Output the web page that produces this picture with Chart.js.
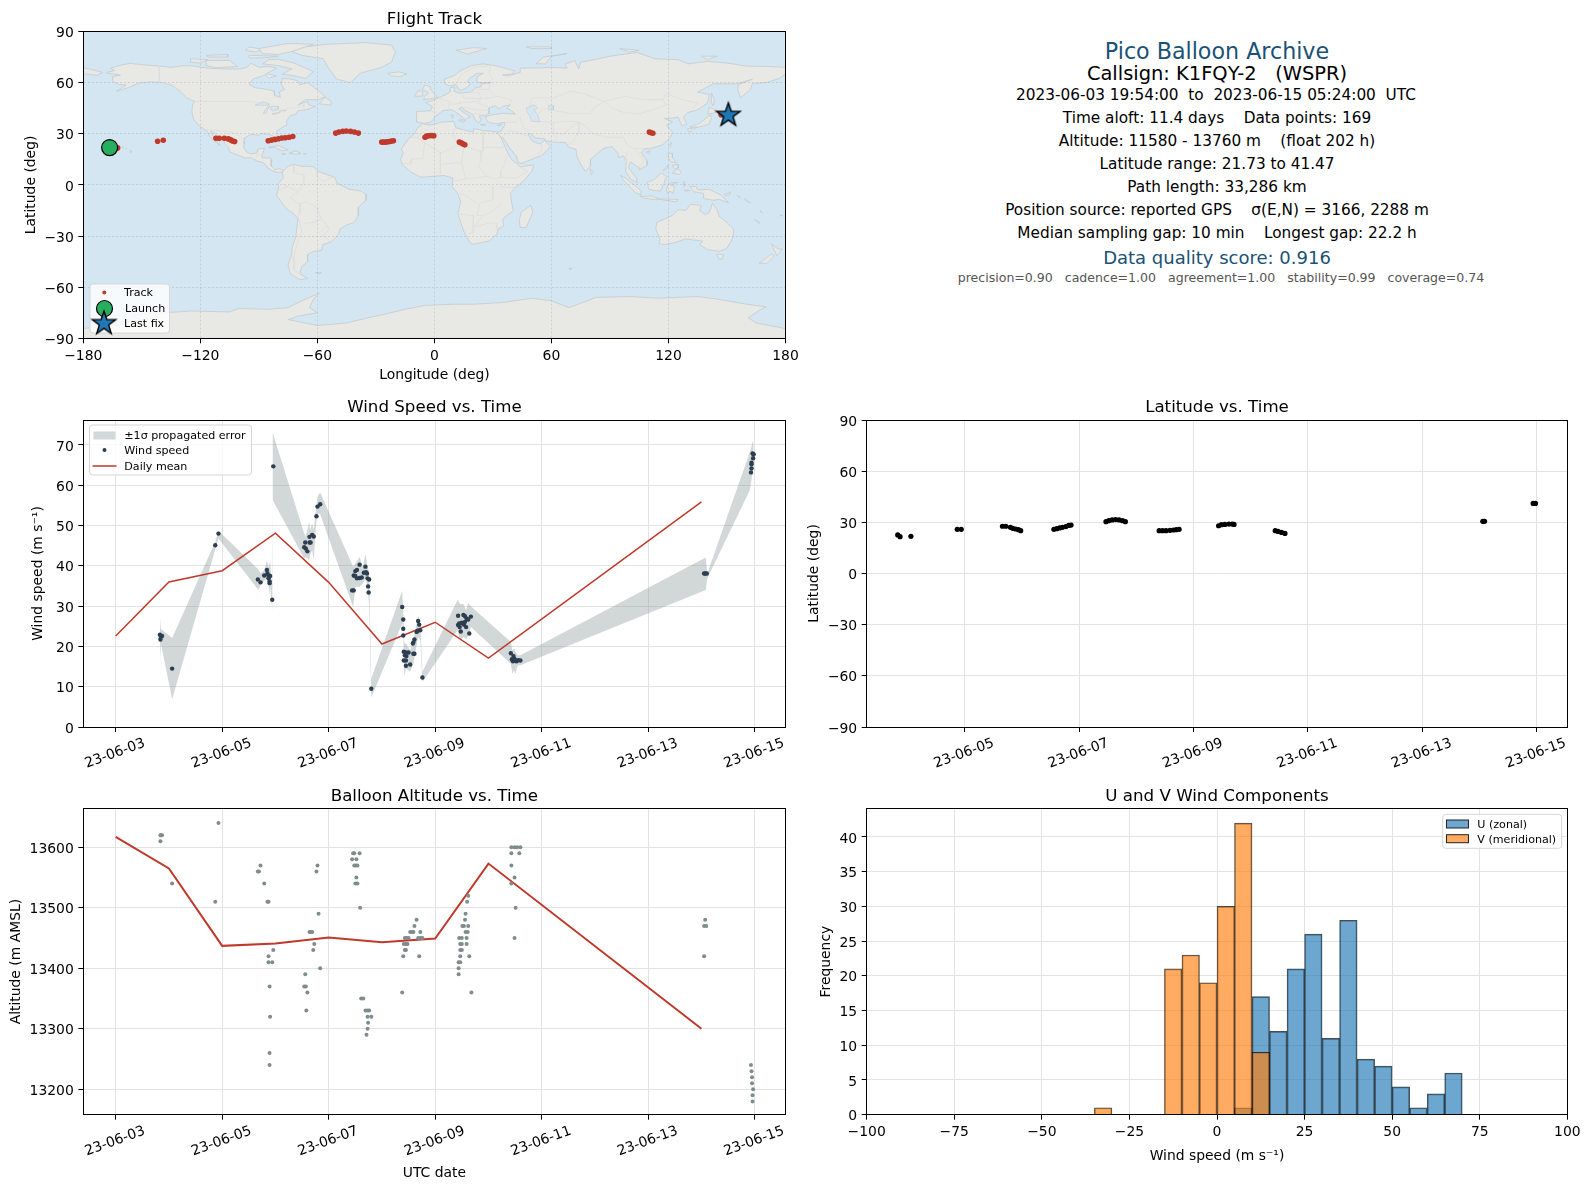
<!DOCTYPE html>
<html>
<head>
<meta charset="utf-8">
<script src="https://cdn.jsdelivr.net/npm/chart.js@4/dist/chart.umd.js"></script>
<style>
  html, body { margin: 0; padding: 0; background: #fff; }
  #page { position: relative; width: 1590px; height: 1189px; overflow: hidden; font-family: "DejaVu Sans", sans-serif; }
  canvas { position: absolute; }
  .info { position: absolute; white-space: pre; transform: translate(-50%, -50%); line-height: 1; }
</style>
</head>
<body>
<div id="page">
  <canvas id="mapChart" width="800" height="384" style="left:0;top:0"></canvas>
  <canvas id="windChart" width="800" height="385" style="left:0;top:388px"></canvas>
  <canvas id="latChart" width="790" height="385" style="left:800px;top:388px"></canvas>
  <canvas id="altChart" width="800" height="412" style="left:0;top:777px"></canvas>
  <canvas id="histChart" width="790" height="412" style="left:800px;top:777px"></canvas>
</div>
<script>
// axis ticks
const lonTicks = [-180, -120, -60, 0, 60, 120, 180];
const latTicks = [-90, -60, -30, 0, 30, 60, 90];
const windDayTicks = [3, 5, 7, 9, 11, 13, 15];
const latDayTicks = [5, 7, 9, 11, 13, 15];
const windTicks = [0, 10, 20, 30, 40, 50, 60, 70];
const altTicks = [13200, 13300, 13400, 13500, 13600];
const histXTicks = [-100, -75, -50, -25, 0, 25, 50, 75, 100];
const histYTicks = [0, 5, 10, 15, 20, 25, 30, 35, 40];

// flight track
const trackLon = [-162.4, -141.9, -139, -112, -110.3, -107.7, -105.6, -104.4, -103.4, -102.4,
  -85.2, -83.5, -81.8, -80, -78.3, -76.5, -74.5, -72.6,
  -50.6, -49, -47, -45.2, -43, -41, -39,
  -27, -26, -25, -24, -23, -22, -21,
  -4.8, -4, -3, -2, -1, -0.3,
  12.8, 13.7, 14.6, 15.6,
  110.2, 111, 112, 147];
const trackLat = [21.7, 25.6, 26.2, 27.3, 27.3, 27.3, 27, 26.4, 25.8, 25.4,
  25.9, 26.3, 26.7, 27.1, 27.5, 27.7, 28, 28.4,
  30.4, 31, 31.4, 31.6, 31.4, 31, 30.4,
  25.1, 25.1, 25.1, 25.3, 25.5, 25.7, 25.9,
  28, 28.6, 28.8, 29, 29, 28.8,
  25.1, 24.7, 24.1, 23.5,
  31, 30.6, 30.3, 41.1];
const launchLon = [-166.5];
const launchLat = [21.9];
const lastLon = [150.7];
const lastLat = [41.47];

// latitude vs time (day of June 2023)
const latDays = [3.83, 3.87, 4.06, 4.87, 4.94, 5.66, 5.72, 5.80, 5.84, 5.89, 5.94, 5.98,
  6.56, 6.61, 6.66, 6.71, 6.77, 6.82, 6.86,
  7.47, 7.52, 7.58, 7.64, 7.70, 7.76, 7.81,
  8.40, 8.46, 8.52, 8.59, 8.65, 8.70, 8.75,
  9.44, 9.49, 9.55, 9.62, 9.68, 9.71,
  10.43, 10.48, 10.54, 10.60, 14.06, 14.09, 14.94, 14.98];
const latValues = [22.6, 21.6, 21.8, 25.9, 25.9, 27.7, 27.7, 27.1, 26.5, 26.1, 25.7, 25.1,
  25.9, 26.3, 26.7, 27.1, 27.5, 28.2, 28.4,
  30.4, 31, 31.4, 31.6, 31.4, 31, 30.4,
  25.1, 25.1, 25.1, 25.3, 25.5, 25.7, 25.9,
  28, 28.6, 28.8, 29, 29, 28.8,
  25.1, 24.7, 24.1, 23.5, 30.6, 30.6, 41.1, 41.1];

// wind speed samples
const windDays = [3.83, 3.87, 3.84, 3.85, 4.06, 4.87, 4.93,
  5.67, 5.72, 5.79, 5.84, 5.85, 5.87, 5.90, 5.87, 5.89, 5.89, 5.94, 5.96,
  6.54, 6.57, 6.60, 6.56, 6.64, 6.66, 6.64, 6.69, 6.72, 6.77, 6.79, 6.84,
  7.44, 7.47, 7.47, 7.50, 7.53, 7.50, 7.53, 7.58, 7.58, 7.62, 7.66, 7.69, 7.70, 7.72, 7.73, 7.76, 7.74, 7.75, 7.80,
  8.38, 8.40, 8.40, 8.40, 8.41, 8.45, 8.50, 8.43, 8.46, 8.41, 8.45, 8.45, 8.53, 8.59, 8.61, 8.58, 8.61, 8.59, 8.65, 8.68, 8.70, 8.72, 8.67, 8.76,
  9.43, 9.53, 9.56, 9.67, 9.59, 9.56, 9.50, 9.45, 9.43, 9.46, 9.54, 9.58, 9.48, 9.64, 9.62, 9.52,
  10.42, 10.47, 10.44, 10.48, 10.51, 10.46, 10.56, 10.60, 10.50, 10.53,
  14.05, 14.07, 14.10,
  14.96, 14.98, 14.97, 14.94, 14.94, 14.94, 14.93];
const windValues = [22.9, 22.6, 21.7, 22.4, 14.5, 45.1, 48,
  36.6, 35.9, 37.6, 39, 38.1, 37.6, 37.5, 36.9, 35.7, 36.1, 31.6, 64.7,
  44.6, 44.3, 43.6, 45.8, 45.8, 45.8, 47.2, 47.7, 47.3, 52.3, 54.7, 55.3,
  33.9, 33.9, 37.6, 38.7, 39, 37.5, 36.9, 40.3, 37, 37.1, 38.3, 39.8, 38.4, 38.1, 36.9, 36.6, 34.9, 33.4, 9.5,
  29.8, 26.7, 24.4, 22.7, 18.7, 18.5, 18.5, 17.8, 17.6, 16.5, 16.5, 15.2, 15.5, 18.2, 18.2, 20.7, 21.7, 21, 23.6, 26.3, 25.4, 24, 23.9, 12.3,
  27.6, 27.8, 27.5, 27.4, 26.9, 26.1, 25.9, 25.7, 25.3, 24.8, 25.4, 24.8, 23.7, 23.2, 26.7, 25.7,
  18.3, 17.6, 16.8, 17, 16.4, 16.3, 16.6, 16.5, 16.7, 16.3,
  38.1, 38.1, 38.1,
  67.9, 67.7, 66.7, 65.6, 65.2, 64.2, 63.2];

// propagated error band
const bandDays = [3.83, 3.85, 4.06, 4.87, 4.93, 5.68, 5.72, 5.79, 5.84, 5.87, 5.88, 5.90, 5.94, 5.95,
  6.54, 6.57, 6.63, 6.65, 6.69, 6.72, 6.76, 6.79, 6.84,
  7.46, 7.50, 7.58, 7.64, 7.69, 7.73, 7.75, 7.76, 7.80,
  8.38, 8.40, 8.42, 8.45, 8.53, 8.59, 8.68, 8.72, 8.76,
  9.42, 9.47, 9.53, 9.58, 9.62, 9.67,
  10.42, 10.45, 10.48, 10.51, 10.55, 10.60,
  14.08, 14.11, 14.91, 14.93, 14.97, 14.98];
const bandUpper = [27.2, 24.3, 22.1, 46, 48.7, 39.1, 38.1, 38.9, 41.4, 39.8, 39.8, 41.4, 34.8, 73,
  48, 47.2, 50.9, 48.9, 50.5, 48.9, 53.8, 57.2, 58.2,
  39.8, 40.6, 42.2, 39.8, 42.9, 39.8, 38.9, 38.1, 12,
  33.8, 29, 20.7, 20.7, 19, 21.5, 27.6, 25.7, 13.7,
  31.5, 30.5, 30.5, 29, 30.8, 30,
  21.1, 19, 19.5, 18.6, 17.8, 17.8,
  42.1, 38.1, 68.3, 69.2, 71.2, 69.6];
const bandLower = [16.2, 20.7, 6.9, 44.1, 46.8, 34, 35.2, 36.3, 36.9, 35.6, 32.7, 34.8, 29, 56.3,
  41.8, 42.2, 41.4, 42.7, 43.9, 41.4, 50.1, 53, 52.8,
  29.8, 34.8, 34.8, 35.6, 36.9, 34.8, 31.5, 29.8, 7.3,
  25.7, 24, 12.6, 14.5, 13.7, 15.7, 22.4, 21.5, 11.2,
  24, 21.5, 22.4, 21.7, 22.7, 24.8,
  15.7, 13.2, 14.1, 13.2, 15.3, 15.3,
  34, 36.9, 58.8, 60.5, 64.2, 66.3];

const meanDays = [3, 4, 5, 6, 7, 8, 9, 10, 14];
const meanWind = [22.6, 36, 38.8, 48.1, 35.9, 20.6, 26, 17.1, 55.9];
const meanAlt = [13617, 13565, 13437, 13441, 13451, 13443, 13449, 13573, 13300];

// altitude samples
const altDays = [3.84, 3.84, 3.87, 3.85, 4.06, 4.87, 4.93,
  5.72, 5.67, 5.69, 5.79, 5.85, 5.87, 5.96, 5.87, 5.87, 5.94, 5.89, 5.90, 5.89, 5.89,
  6.79, 6.77, 6.81, 6.64, 6.66, 6.69, 6.73, 6.71, 6.84, 6.56, 6.54, 6.57, 6.60, 6.58,
  7.46, 7.48, 7.58, 7.44, 7.52, 7.48, 7.51, 7.54, 7.52, 7.50, 7.54, 7.59, 7.61, 7.65, 7.69, 7.73, 7.76, 7.73, 7.80, 7.74, 7.73, 7.71,
  8.38, 8.40, 8.43, 8.45, 8.41, 8.45, 8.48, 8.43, 8.46, 8.50, 8.65, 8.61, 8.53, 8.57, 8.72, 8.59, 8.68, 8.72, 8.76, 8.70,
  9.44, 9.44, 9.44, 9.47, 9.47, 9.47, 9.50, 9.47, 9.50, 9.45, 9.50, 9.59, 9.59, 9.64, 9.68, 9.57, 9.61, 9.51, 9.54, 9.62, 9.56, 9.57, 9.60, 9.62,
  10.43, 10.49, 10.54, 10.60, 10.43, 10.58, 10.43, 10.49, 10.43, 10.51, 10.49,
  14.07, 14.05, 14.09, 14.05,
  14.93, 14.94, 14.95, 14.95, 14.97, 14.96, 14.96];
const altValues = [13610, 13620, 13620, 13620, 13540, 13510, 13640,
  13570, 13560, 13560, 13540, 13510, 13510, 13430, 13420, 13410, 13410, 13370, 13320, 13260, 13240,
  13570, 13560, 13490, 13460, 13460, 13460, 13440, 13430, 13400, 13390, 13370, 13370, 13360, 13330,
  13590, 13590, 13590, 13580, 13580, 13570, 13570, 13570, 13550, 13540, 13540, 13500, 13350, 13350, 13330, 13330, 13330, 13320, 13320, 13310, 13300, 13290,
  13360, 13420, 13430, 13430, 13440, 13440, 13440, 13450, 13450, 13450, 13480, 13470, 13460, 13460, 13460, 13460, 13450, 13450, 13450, 13420,
  13390, 13400, 13410, 13410, 13420, 13430, 13430, 13440, 13440, 13450, 13450, 13450, 13440, 13420, 13360, 13460, 13460, 13470, 13470, 13470, 13480, 13490, 13510, 13520,
  13600, 13600, 13600, 13600, 13590, 13590, 13570, 13550, 13540, 13500, 13450,
  13480, 13470, 13470, 13420,
  13240, 13230, 13220, 13210, 13200, 13190, 13180];

// histogram bins (centre of each 5 m/s bin, count)
const uBins = [7.5, 12.5, 17.5, 22.5, 27.5, 32.5, 37.5, 42.5, 47.5, 52.5, 57.5, 62.5, 67.5];
const uCounts = [1, 17, 12, 21, 26, 11, 28, 8, 7, 4, 1, 3, 6];
const vBins = [-32.5, -12.5, -7.5, -2.5, 2.5, 7.5, 12.5];
const vCounts = [1, 21, 23, 19, 30, 42, 9];

// coastlines, flat lon,lat pairs
const landShapes = [
  // north america
  [-168,66,-164,67,-166,68.5,-160,70.5,-156,71.3,-150,70.5,-141,69.7,-135,69,-128,70,-124,69.8,-116,68.5,-108,68,-100,68,-96,69,-94,71.5,-90,69,-85,69.5,-81,68.5,-85,66,-87,64.5,-93,62,-95,59,-92,57,-88,56.5,-82,55,-82,52.5,-79,51.3,-79.5,54.5,-77,56,-78.5,59,-78,62.5,-73,62,-70,61,-69,58.7,-65,60,-62,57.5,-57,53,-56,51.7,-60,50,-66,50,-70,47,-65,49,-64.5,47,-61,46,-66,44,-70,43.5,-71,41.5,-74,40.5,-76,37,-75.5,35.3,-78,33.8,-81,31.5,-80.2,27,-80.3,25.3,-81.8,26,-83,29,-85,29.7,-89,30.2,-90,29.2,-94,29.6,-97.3,27.5,-97.5,24,-97.8,22,-96,19,-94,18.2,-91,18.7,-90.5,21,-87,21.5,-88,18.5,-88.5,16,-84,15.8,-83.3,14.8,-83.7,11,-82,9,-79.5,9.5,-77.3,8.5,-78,7.5,-80.5,7.3,-83,8.2,-85.5,10,-87.5,13,-91,14,-94,16,-97,15.8,-101,17.5,-105,19.5,-105.5,22,-108,25,-110,27.5,-112.8,30.5,-114.7,31.7,-114.5,30,-111.5,26,-109.8,23,-112,25,-115,28,-116.5,31.5,-120.5,34.5,-123.5,38.5,-124.3,43,-124,47,-123,49,-127,51,-130,54.5,-134,58,-139,60,-145,60.5,-150,60,-152,59.5,-157,57,-163,55,-158,58.5,-162,59,-165,61,-165,63.5,-161,64.5,-168,65.5],
  [-180,68.8,-175,67.5,-170,66,-173,64.3,-178,65,-180,65],
  [-73,78.2,-66,81,-55,82.5,-35,83.5,-22,82,-20,78,-22,72,-27,69,-38,65.5,-43,60,-50,62,-54,68,-57,74,-68,76],
  [-80,73.7,-72,71.5,-67,69,-62,66.5,-66,62.5,-72,64,-78,65,-73,68,-80,70,-88,71,-85,73.5],
  [-117,73,-105,73,-101,69.5,-112,68.7,-117,70],
  [-90,80,-75,83,-62,82.5,-72,78.5,-80,76.5,-88,77],
  [-125,74,-116,73.5,-120,71.5,-125,72],
  [-95,76,-80,75.5,-88,74.5,-95,74.5],
  [-117,76,-106,76.5,-106,75,-116,75],
  [-95,81,-88,79.5,-92,78,-97,79],
  [-87,65.5,-81,64,-85,62.5],
  [-59,47.6,-53,46.8,-53,49,-56,51.5],
  [-85,22,-80,23,-75,20.5,-78,20,-82,22],
  [-74.5,18.5,-71,20,-68.5,18.5,-71,18],
  [-78.3,18.3,-76.3,18.2,-77,17.8],
  [-67.2,18.4,-65.7,18.3,-66.5,18],
  [-156,20.2,-155,19.5,-156,19],
  [-158.2,21.6,-157.7,21.4,-158,21.2],
  [-160,22.2,-159.4,22.2,-159.6,21.9],
  // south america
  [-77.3,8.5,-75,11,-72,12,-68,11,-62,10.7,-60,8.3,-55,6,-51,4.5,-50,1,-44,-2.5,-38,-3.5,-35,-5.5,-35,-9,-39,-13,-39,-18,-41,-22,-45,-23.5,-48.5,-26,-49,-29,-53,-33.5,-57,-35,-58,-38.5,-62,-39,-65,-41,-65,-45,-68,-48,-69,-52,-65,-55,-69,-55.5,-74,-52,-75,-47,-73,-40,-73,-37,-71,-30,-70,-20,-72,-17,-76,-14,-81,-6,-80,-2.5,-80,1,-77.5,4,-78,7.5],
  [-61,-51.5,-58,-51.5,-59,-52.2],
  // africa
  [-6,35.8,-2,35,3,36.8,10,37.3,11,33.5,15,32.3,20,31,20,33,25,32,32,31,34,28,36,23,37.5,19,39.5,15,43,11.8,44,10.5,51,11.8,50,8,45.5,2,41,-2,39,-5,39.5,-10,40.5,-15,35,-20,35.5,-24,32.7,-26,32,-29,28,-33,20,-34.8,18.3,-34,15,-27,12,-17,13.5,-10,12,-5,9,-1,9.5,4,5,5.5,-1,5,-7,4.5,-12,7.5,-16.5,12,-17.3,15,-16,19,-17,21,-13,27.5,-10,30,-9,33],
  [49.5,-12,50.5,-16,47,-25,44,-25,43.5,-21,44.5,-16],
  // eurasia
  [-9,37,-9.3,39,-9,43,-2,43.5,-1,46,-4.5,48.3,-1,49.5,2,51,4,52,7,53.7,8.5,55,8,57,10.5,57.5,10,55,12,54,14,54,19,54.5,21,57,24,57.5,24,59.3,29,60,23,60,21.5,61,22,63.5,25,65.5,22,65.5,18,62.5,17,60.5,18.5,59.5,16.5,57,14,55.5,12.5,56,11,59,8,58,5.5,59,5,62,10,64,14,67.5,19,70,25,71,31,70,41,67,40,65,35,64.5,38,64,44,66,44,68.5,54,68.7,60,69,68,68.5,67,71,72,73,74,68,75,72,82,73.5,90,75.5,104,77.7,113,74,125,73.5,130,71,140,72.5,150,71.5,160,69.7,170,69.5,180,69,180,65,177,62.5,170,60,163,59.5,162,56,157,51,155.5,56,156,59,163,62,155,59.3,143,59.3,135,54.5,141,53,140,48,135,44,130,42.5,127.5,39.7,129.5,36,127,34.5,126,37,125,39.7,121,39,118,39,122,37,119,35,122,31,121,28,117,23.5,110,21,108,21.5,106,19,109,14,109,11.5,105,8.7,105,10,100.5,13.5,99.5,10,103.5,4,104,1.3,100.5,3.5,98,8,98.5,14,97,17,94.5,16,94,18.5,91,22.5,87,21.5,82,17,80,15,80,11,77.5,8,75,12,73,17,72.5,21,69,22,67,25,61.5,25,57,26,56.5,27,52,27.5,49,30.3,48,29.5,50,26,51.5,25,54,24,56.5,26,59.5,22.5,55,17,52,16,45,12.7,43,13,42,17,39,21,35,28,34,27.8,32.5,30,32.3,31,34,31.3,36,35,36,36.7,32,36,28,36.5,26.5,38.5,26.3,40,29,41,35,42,41.5,41.5,39,44,37,45,39,47,35,46,33.5,44.5,31,46.5,28,45,28,42,26,40.7,23,40.5,24,38,22.5,36.5,21,38,19.5,41.5,16,43.5,13.5,45.7,12.5,44.5,16,41.8,18.5,40,16.5,39,16,38,13,41,10.5,43,8.5,44.3,4,43.5,3,42,0,40,-0.3,38.5,-2,36.8,-5.5,36],
  [-24,65.5,-18,66.3,-14,65,-18,63.5,-22,64],
  [-5.5,50,1.5,51.2,0,53.5,-2,56,-2,57.6,-5,58.6,-6,56,-3,54,-5,52],
  [-10,52,-6,52.2,-6,55,-8.5,55.2],
  [11,79,20,80.5,27,80,17,76.8],
  [52,71,56,75,68,77,60,75.5,57,71],
  [95,80,105,79,100,78],
  [137,75.5,145,75.5,140,73.5],
  [47,81,60,81,60,80,50,80],
  [12.5,38,15.5,38.2,15,36.7],
  [8.3,41,9.7,41,9.5,39],
  [23.5,35.5,26.3,35.2,24,35],
  [32.3,35,34.5,35.6,33,34.6],
  [79.8,9.5,81.8,7.5,80.5,6],
  // east asia and the islands
  [142,54,143.5,50,143,46.5,142,48],
  [140,41.7,141,45.5,145.5,43.5,143,42],
  [130.9,34,136,36,140,40,141.5,41,142,39,140.7,35.5,136,34,132,33.8],
  [130,33,132,33.5,131.3,31,130,31.5],
  [132.3,33.8,134.5,34,134,33.3,132.8,32.8],
  [120,23,121.5,25.2,121,22],
  [108.7,19.3,110.7,20,110,18.3],
  [120,18.5,122,18.5,122,16,124,13,121,13.7,120,16],
  [122,7,125,9.5,126.5,7.5,125.5,6,124,6.5],
  [122,11.5,125,12,125,10,123,9.5],
  [117.3,8.5,119.5,11.3,119.7,10.5,118,8.5],
  [109,1.5,111.5,2.5,113,3.5,116.5,7,119,5,117.7,1,116,-3.5,113,-3.3,110,-2.5],
  [95.3,5.6,98,4,103.5,-1,106,-3.5,105.8,-5.8,103,-4.5,100.5,-1.5,97.5,2],
  [105.3,-6.5,108.5,-6.7,111,-6.5,114.5,-7.7,114.5,-8.7,108,-7.9],
  [115,-8.2,119,-8.3,125,-8.5,124,-10,118,-9],
  [119.5,-5.5,119,-2.7,120,1,125,1.5,121,0,123,-1,122.5,-5,120.5,-3.5],
  [127.5,2,128.7,1,128,-1],
  [128,-3,130.8,-3.3,128.5,-3.7],
  [131,-1,134,-0.8,135,-3,141,-2.6,147,-6,150.8,-10.5,146,-8.5,143,-9,138,-8,138,-5,133,-4],
  [148.5,-5.7,152,-4.2,151,-6,149,-6.2],
  [155,-6,157,-7.5,156,-7.2],
  [159,-8,162,-10.5,160,-9.5],
  [167,-15,168,-16.5,167.5,-16],
  [164,-20.2,167,-22.3,166,-22.3],
  [177.3,-17.5,178.6,-18,177.5,-18.2],
  // australia, new zealand
  [114,-22,113.5,-26,115.7,-32,115,-34.5,118,-35,123.5,-33.8,129,-31.7,134,-32.5,137.7,-33,136,-35,140,-38,146,-39,150,-37.3,153,-31,153.5,-26,149,-21,146,-18.5,145,-14.5,142.5,-10.8,141,-16,139,-17.5,136,-15,136.8,-12,131,-11.5,129,-15,125,-14.5,122,-18,118,-20],
  [144.7,-40.7,148.3,-41,147.5,-43.5,146,-43.5],
  [172.7,-34.5,176,-37.5,178.5,-37.7,175.5,-41.6,174.8,-39.5],
  [172.7,-40.5,174.3,-41.7,170.5,-46,166.5,-46,170,-43],
  [69,-49,70.5,-49.2,69.5,-49.7],
  // antarctica
  [-180,-84.3,-160,-82,-150,-79,-155,-77,-145,-75.5,-125,-74,-105,-74.5,-100,-72.5,-85,-73,-75,-72,-68,-68,-59,-63.5,-62,-67,-64,-72,-60,-75,-70,-77,-75,-79,-60,-82.5,-45,-81,-36,-78.5,-28,-76.5,-15,-73,-5,-70.7,10,-70,20,-70,35,-69,50,-66.5,60,-68,69,-72,75,-69.5,83,-66,100,-65.5,115,-66.5,135,-65.5,145,-67,160,-70,170,-71.5,166,-74,161,-78,165,-81,180,-84.3,180,-90,-180,-90]
];
// inland water
const lakeShapes = [
  [47,45,51,47,53,45,51,44,53,41,54,37,50,37.3,49,40,47.5,43],
  [-92,46.8,-88,48.7,-85,47.8,-85,46.6,-88,46.7],
  [-87.8,42,-85.5,45.8,-84.8,45.8,-86.3,42],
  [-84.5,46,-80,46,-80,44.5,-82.5,43.2,-83.8,44],
  [-83.3,41.7,-79,42.8,-79.2,42.4,-82,41.4],
  [-79.7,43.3,-76.3,44,-76.3,43.4],
  [58.5,46.5,61,46.5,61,44,58.5,44]
];
// country borders, open polylines
const borderLines = [
  [-141,69.7,-141,60.3,-135,59,-130,55],
  [-123,49,-95,49,-89,48,-84,46,-82,42,-79,43,-75,45,-71,45,-67,47.3,-67,45],
  [-117,32.5,-108,31.5,-106.5,31.7,-101,29.7,-97.3,26],
  [-92,14.5,-91,17.5,-89,17.8,-88.5,16],
  [-72,12,-72,7,-67,6,-67,1.5,-70,-4,-74,-7.5,-70,-11,-65,-10,-60,-13.5,-58,-20,-55,-24,-54,-26,-57,-30,-53,-33.5],
  [-70,-18,-69,-22,-68,-27,-70,-33,-72,-42,-72,-50,-69,-52],
  [-78,0.5,-75,-1,-70,-4],
  [-80,-3.5,-75,-1],
  [-60,8,-60,5,-57,2,-52,4.5],
  [-69,-11,-69,-17,-70,-18],
  [-58,-20,-62,-22,-67,-22.5],
  [-58,-27,-55,-24],
  [-8.7,27.5,3,19,4,19,12,23.5,15,23,24,19.5,24,15.5,22.5,11,27,5,31,3.7,34,4.5,42,4,48,8,43,11],
  [25,32,25,20,24,20],
  [11,33,9.5,30,12,23.5],
  [-1.7,35,-8.7,28,-13,27.7],
  [-8.7,27.5,-5,25,-6,15.5,-12,15,-12,12.5,-16,12.5],
  [3,19,3,12,3,6.5],
  [15,23,14,13,9,12.8,3,11.8],
  [14,13,15,8,16,3.5,10,2.3],
  [16,3.5,18,3.7,27,5],
  [36.8,22,24.5,22],
  [37,17.5,36,12,34,8,34,4.5],
  [30,-1,30,-8.5,23,-11,22,-18,25,-18,30,-15.5,34,-11],
  [34,-1,41,-1.7,39.2,-4.7],
  [12,-5,16,-6,22,-11],
  [12,-17,20,-18,20,-28,17,-28.7],
  [25,-18,20,-25,28,-22.3,32,-22.5,32,-26],
  [49,46,50,51,61,51,70,55,77,53.5,83,50.7,87,49],
  [87,49,98,52,107,50,117,50,119,53.5,127,50,135,48,131,43],
  [87,49,91,45,97,42.5,105,41.7,111,43.5,119,47,117,50],
  [53,41.5,56,45,62,43.5,70,42,80,42,82,45.5,87,49],
  [74,37,78,34,81,30,88,28,97,28,99,23,102,21.5,108,21.5],
  [74,37,74,31,71,25,68.5,23.7],
  [44,39.5,45.5,34,48.5,30.3],
  [61,25,63,27,61,31,61,36.5,54,37.3],
  [61,31,66,29.5,70,33.5,74,37,66,37.5,61,36.5],
  [99,20,98.5,16,98,10],
  [102,21.5,105,18,107.5,14,105,10.5],
  [44,39.5,42,37,36,36.5],
  [36,29.5,39,32,47,29,48,28.5],
  [52,16,55,20,55,24],
  [-1.7,43.3,3,42.4],
  [2.5,51,6,49.5,8,49,7.5,47.5,7,44],
  [14,54,15,51,24,50.5,22.5,49,17,48.5,13,48.5,13,47.5,7.5,47.5],
  [19,54.5,23,54,24,50.5],
  [24,50.5,33,52,40,49.5,38,47],
  [22.5,48,28,45.5],
  [13.5,45.7,22,44,28,43.7],
  [20,42,26,41.3],
  [28,56,28,59.5],
  [31,52.5,28,56,21,56],
  [11,59,12,61,14,65,20,69,29,70],
  [29,70,28,66,30,62,28,60.5]
];

const infoLines = [
  ['Pico Balloon Archive', 22.2, '#1a5276', 51, 1217],
  ['Callsign: K1FQY-2   (WSPR)', 19.44, '#000', 74.3, 1217],
  ['2023-06-03 19:54:00  to  2023-06-15 05:24:00  UTC', 15.3, '#000', 96, 1216],
  ['Time aloft: 11.4 days    Data points: 169', 15.3, '#000', 119, 1217],
  ['Altitude: 11580 - 13760 m    (float 202 h)', 15.3, '#000', 142, 1217],
  ['Latitude range: 21.73 to 41.47', 15.3, '#000', 165, 1217],
  ['Path length: 33,286 km', 15.3, '#000', 188, 1217],
  ['Position source: reported GPS    σ(E,N) = 3166, 2288 m', 15.3, '#000', 211, 1217],
  ['Median sampling gap: 10 min    Longest gap: 22.2 h', 15.3, '#000', 234, 1217],
  ['Data quality score: 0.916', 18, '#1a5276', 258, 1217],
  ['precision=0.90   cadence=1.00   agreement=1.00   stability=0.99   coverage=0.74', 12.56, '#555', 278, 1221]
];

const RED = '#c0392b', NAVY = '#2c3e50', GREY = '#7f8c8d', GRID = '#e3e3e3';

Chart.defaults.font.family = '"DejaVu Sans", sans-serif';
Chart.defaults.font.size = 13.9;
Chart.defaults.color = '#000';
Chart.defaults.animation = false;

function zip(xs, ys) { return xs.map((x, i) => ({x: x, y: ys[i]})); }
function pairs(flat, close) {
  const out = [];
  for (let i = 0; i < flat.length; i += 2) out.push({x: flat[i], y: flat[i + 1]});
  if (close) out.push(out[0]);
  return out;
}
function minus(v) { return String(v).replace('-', '\u2212'); }
function dayLabel(v) { return '23-06-' + String(v).padStart(2, '0'); }

// filled 5 point star, used as point style and in the legend
function makeStar() {
  const c = document.createElement('canvas');
  c.width = 28; c.height = 28;
  const g = c.getContext('2d');
  g.beginPath();
  for (let i = 0; i < 10; i++) {
    const r = i % 2 ? 4.9 : 12.4, a = -Math.PI / 2 + i * Math.PI / 5;
    g.lineTo(14 + r * Math.cos(a), 15 + r * Math.sin(a));
  }
  g.closePath();
  g.fillStyle = '#1f77b4'; g.fill();
  g.lineWidth = 1.4; g.strokeStyle = '#000'; g.stroke();
  return c;
}
const starIcon = makeStar();

const framePlugin = {
  id: 'frame',
  beforeDraw(chart) {
    const a = chart.chartArea, bg = chart.options.plugins.frame.background;
    if (bg) {
      chart.ctx.fillStyle = bg;
      chart.ctx.fillRect(a.left, a.top, a.width, a.height);
    }
  },
  afterDraw(chart) {
    const a = chart.chartArea, g = chart.ctx;
    const l = Math.round(a.left - 0.5) + 0.5, r = Math.round(a.right - 0.5) + 0.5;
    const t = Math.round(a.top - 0.5) + 0.5, b = Math.round(a.bottom - 0.5) + 0.5;
    g.save();
    g.strokeStyle = '#000'; g.lineWidth = 1;
    g.strokeRect(l, t, r - l, b - t);
    g.restore();
  }
};

// closed outlines get filled through the points the scales placed
const polyFillPlugin = {
  id: 'polyFill',
  beforeDatasetDraw(chart, args) {
    const ds = chart.data.datasets[args.index];
    if (!ds.polyColor) return;
    const g = chart.ctx;
    g.save();
    g.beginPath();
    args.meta.data.forEach((p, i) => { i ? g.lineTo(p.x, p.y) : g.moveTo(p.x, p.y); });
    g.closePath();
    g.fillStyle = ds.polyColor;
    g.fill();
    g.restore();
  }
};

const boxLegendPlugin = {
  id: 'boxLegend',
  afterDraw(chart) {
    const o = chart.options.plugins.boxLegend;
    if (!o || !o.items) return;
    const g = chart.ctx;
    g.save();
    g.beginPath();
    g.roundRect(o.x, o.y, o.w, o.h, 3);
    g.fillStyle = o.background || 'rgba(255,255,255,0.8)';
    g.fill();
    g.strokeStyle = '#d6d6d6'; g.lineWidth = 1; g.stroke();
    g.font = o.fontSize + 'px "DejaVu Sans"';
    g.textBaseline = 'middle';
    o.items.forEach(it => {
      const cx = it.mx, cy = it.y;
      if (it.kind === 'patch') {
        g.fillStyle = it.color; g.fillRect(cx - 11, cy - 4, 22, 8);
        if (it.edge) { g.strokeStyle = it.edge; g.lineWidth = 1; g.strokeRect(cx - 11, cy - 4, 22, 8); }
      } else if (it.kind === 'line') {
        g.strokeStyle = it.color; g.lineWidth = 1.5;
        g.beginPath(); g.moveTo(cx - 12, cy); g.lineTo(cx + 12, cy); g.stroke();
      } else if (it.kind === 'dot') {
        g.fillStyle = it.color; g.beginPath(); g.arc(cx, cy, it.r, 0, 2 * Math.PI); g.fill();
      } else if (it.kind === 'circle') {
        g.fillStyle = it.color; g.strokeStyle = '#000'; g.lineWidth = 1.2;
        g.beginPath(); g.arc(cx, cy, it.r, 0, 2 * Math.PI); g.fill(); g.stroke();
      } else if (it.kind === 'star') {
        g.drawImage(starIcon, cx - 14, cy - 15);
      }
      g.fillStyle = '#000';
      g.textAlign = 'left';
      g.fillText(it.label, it.tx, cy + 1);
    });
    g.restore();
  }
};

Chart.register(framePlugin, polyFillPlugin, boxLegendPlugin);

// fixed plot rectangle inside a cell
function panelOptions(cfg) {
  const base = (tickList, min, max) => ({
    type: 'linear', bounds: 'data', min: min, max: max, offset: false,
    afterBuildTicks(axis) { axis.ticks = tickList.map(v => ({value: v})); },
    grid: {color: cfg.gridColor || GRID, lineWidth: 1, tickColor: '#000', tickLength: 5, tickWidth: 1,
      z: cfg.gridOnTop ? 1 : -1, offset: false, tickBorderDash: []},
    border: {color: '#000', dash: cfg.gridDash || [], z: cfg.gridOnTop ? 2 : 0}
  });
  const x = base(cfg.xTicks, cfg.xMin, cfg.xMax);
  x.ticks = {autoSkip: false, callback: cfg.xFmt, padding: cfg.xRotate ? cfg.xTickPad : 4.5,
    maxRotation: cfg.xRotate || 0, minRotation: cfg.xRotate || 0,
    labelOffset: cfg.xRotate ? 29 : 0};
  // end labels must not eat into the plot rectangle
  x.afterFit = s => { s.height = cfg.xAxisH; s.paddingLeft = 0; s.paddingRight = 0; };
  if (cfg.xTitle) x.title = {display: true, text: cfg.xTitle, padding: {top: 0, bottom: cfg.xTitlePad}};
  const y = base(cfg.yTicks, cfg.yMin, cfg.yMax);
  y.ticks = {autoSkip: false, callback: cfg.yFmt, padding: 4.5, labelOffset: 2};
  y.afterFit = s => { s.width = cfg.plotLeft; s.paddingTop = 0; s.paddingBottom = 0; };
  y.title = {display: true, text: cfg.yTitle, padding: {top: cfg.yTitlePad, bottom: 0}};
  return {
    responsive: false,
    devicePixelRatio: 1,
    events: [],
    layout: {padding: {left: 0, top: 0, bottom: 0, right: cfg.padRight}},
    scales: {x: x, y: y},
    plugins: {
      legend: {display: false},
      tooltip: {enabled: false},
      title: {display: true, text: cfg.title, fullSize: false, font: {size: 16.67, weight: 'normal', lineHeight: 1.2},
        color: '#000', padding: {top: cfg.titleBlock - 22.3, bottom: 2.3}},
      frame: {background: cfg.background},
      boxLegend: cfg.legend
    }
  };
}

// flight track
const mapDatasets = [
  {label: 'Last fix', data: zip(lastLon, lastLat), pointStyle: starIcon, pointRadius: 12, showLine: false},
  {label: 'Launch', data: zip(launchLon, launchLat), pointRadius: 8, pointBackgroundColor: '#27ae60',
    pointBorderColor: '#000', pointBorderWidth: 1.2, showLine: false},
  {label: 'Track', data: zip(trackLon, trackLat), pointRadius: 2.8, pointBackgroundColor: RED, pointBorderWidth: 0, showLine: false}
];
borderLines.forEach(b => mapDatasets.push({data: pairs(b, false), showLine: true, pointRadius: 0,
  borderColor: '#dddedb', borderWidth: 0.8, tension: 0}));
lakeShapes.forEach(s => mapDatasets.push({data: pairs(s, true), showLine: true, pointRadius: 0,
  borderColor: '#c4cbcf', borderWidth: 0.6, polyColor: '#d4e6f1', tension: 0}));
landShapes.forEach(s => mapDatasets.push({data: pairs(s, true), showLine: true, pointRadius: 0,
  borderColor: '#c4cbcf', borderWidth: 0.8, polyColor: '#e8e8e5', tension: 0}));

new Chart(document.getElementById('mapChart'), {
  type: 'scatter',
  data: {datasets: mapDatasets},
  options: panelOptions({
    title: 'Flight Track', titleBlock: 31.5, plotLeft: 83.3, padRight: 14.5, xAxisH: 45.7,
    xTicks: lonTicks, xFmt: minus, xMin: -180, xMax: 180, xTitle: 'Longitude (deg)', xTitlePad: 0.7,
    yTicks: latTicks, yFmt: minus, yMin: -90, yMax: 90, yTitle: 'Latitude (deg)', yTitlePad: 23.4,
    background: '#d4e6f1', gridColor: 'rgba(110,120,125,0.2)', gridDash: [2, 2], gridOnTop: true,
    legend: {x: 90, y: 284, w: 79.5, h: 49, fontSize: 11.1, background: 'rgba(255,255,255,0.8)', items: [
      {kind: 'dot', color: RED, r: 2, mx: 104.3, y: 292.5, tx: 124, label: 'Track'},
      {kind: 'circle', color: '#27ae60', r: 8, mx: 104.5, y: 308.5, tx: 125, label: 'Launch'},
      {kind: 'star', mx: 104, y: 323.5, tx: 124, label: 'Last fix'}
    ]}
  })
});

// wind speed
new Chart(document.getElementById('windChart'), {
  type: 'scatter',
  data: {datasets: [
    {label: 'Wind speed', data: zip(windDays, windValues), pointRadius: 2.2, pointBackgroundColor: NAVY, pointBorderWidth: 0, showLine: false},
    {label: 'Daily mean', data: zip(meanDays, meanWind), showLine: true, borderColor: RED, borderWidth: 1.5, pointRadius: 0, tension: 0},
    {label: '\u00b11\u03c3 propagated error', data: zip(bandDays, bandUpper), showLine: true, pointRadius: 0, borderWidth: 0,
      fill: 3, backgroundColor: 'rgba(127,140,141,0.35)', tension: 0},
    {label: 'lower', data: zip(bandDays, bandLower), showLine: true, pointRadius: 0, borderWidth: 0, tension: 0}
  ]},
  options: panelOptions({
    title: 'Wind Speed vs. Time', titleBlock: 32, plotLeft: 83.3, padRight: 14.5, xAxisH: 46,
    xTicks: windDayTicks, xFmt: dayLabel, xMin: 2.392, xMax: 15.578, xRotate: 20, xTickPad: 3,
    yTicks: windTicks, yMin: 0, yMax: 76.2, yTitle: 'Wind speed (m s\u207b\u00b9)', yTitlePad: 30.3,
    legend: {x: 89.5, y: 37, w: 162, h: 50, fontSize: 11.1, items: [
      {kind: 'patch', color: 'rgba(127,140,141,0.35)', mx: 104.5, y: 47.5, tx: 124.3, label: '\u00b11\u03c3 propagated error'},
      {kind: 'dot', color: NAVY, r: 2, mx: 104.5, y: 62, tx: 124.3, label: 'Wind speed'},
      {kind: 'line', color: RED, mx: 104.5, y: 78, tx: 124.3, label: 'Daily mean'}
    ]}
  })
});

// latitude
new Chart(document.getElementById('latChart'), {
  type: 'scatter',
  data: {datasets: [
    {label: 'Latitude', data: zip(latDays, latValues), pointRadius: 2.6, pointBackgroundColor: '#000', pointBorderWidth: 0, showLine: false}
  ]},
  options: panelOptions({
    title: 'Latitude vs. Time', titleBlock: 32, plotLeft: 66.7, padRight: 22.7, xAxisH: 46,
    xTicks: latDayTicks, xFmt: dayLabel, xMin: 3.287, xMax: 15.537, xRotate: 20, xTickPad: 3,
    yTicks: latTicks, yFmt: minus, yMin: -90, yMax: 90, yTitle: 'Latitude (deg)', yTitlePad: 6
  })
});

// altitude
new Chart(document.getElementById('altChart'), {
  type: 'scatter',
  data: {datasets: [
    {label: 'Altitude', data: zip(altDays, altValues), pointRadius: 2, pointBackgroundColor: GREY, pointBorderWidth: 0, showLine: false},
    {label: 'Daily mean', data: zip(meanDays, meanAlt), showLine: true, borderColor: RED, borderWidth: 2, pointRadius: 0, tension: 0}
  ]},
  options: panelOptions({
    title: 'Balloon Altitude vs. Time', titleBlock: 31.5, plotLeft: 83.3, padRight: 14.5, xAxisH: 74.3,
    xTicks: windDayTicks, xFmt: dayLabel, xMin: 2.392, xMax: 15.578, xRotate: 20, xTickPad: 3,
    xTitle: 'UTC date', xTitlePad: 7.7,
    yTicks: altTicks, yMin: 13158, yMax: 13664, yTitle: 'Altitude (m AMSL)', yTitlePad: 8.4
  })
});

// u / v histogram
new Chart(document.getElementById('histChart'), {
  type: 'bar',
  data: {datasets: [
    {label: 'V (meridional)', data: zip(vBins, vCounts), backgroundColor: 'rgba(255,127,14,0.65)',
      borderColor: 'rgba(0,0,0,0.7)', borderWidth: 1, barThickness: 17.5, grouped: false},
    {label: 'U (zonal)', data: zip(uBins, uCounts), backgroundColor: 'rgba(31,119,180,0.65)',
      borderColor: 'rgba(0,0,0,0.7)', borderWidth: 1, barThickness: 17.5, grouped: false}
  ]},
  options: panelOptions({
    title: 'U and V Wind Components', titleBlock: 31.5, plotLeft: 66.7, padRight: 22.7, xAxisH: 74.3,
    xTicks: histXTicks, xFmt: minus, xMin: -100, xMax: 100, xTitle: 'Wind speed (m s\u207b\u00b9)', xTitlePad: 24.2,
    yTicks: histYTicks, yMin: 0, yMax: 44.1, yTitle: 'Frequency', yTitlePad: 18.2,
    legend: {x: 642.7, y: 37.3, w: 119, h: 34, fontSize: 11.1, items: [
      {kind: 'patch', color: 'rgba(31,119,180,0.65)', edge: '#222', mx: 657.5, y: 47, tx: 677.3, label: 'U (zonal)'},
      {kind: 'patch', color: 'rgba(255,127,14,0.65)', edge: '#222', mx: 657.5, y: 61.7, tx: 677.3, label: 'V (meridional)'}
    ]}
  })
});

// summary panel
const page = document.getElementById('page');
infoLines.forEach(l => {
  const d = document.createElement('div');
  d.className = 'info';
  d.textContent = l[0];
  d.style.fontSize = l[1] + 'px';
  d.style.color = l[2];
  d.style.top = l[3] + 'px';
  d.style.left = l[4] + 'px';
  page.appendChild(d);
});
</script>
</body>
</html>
